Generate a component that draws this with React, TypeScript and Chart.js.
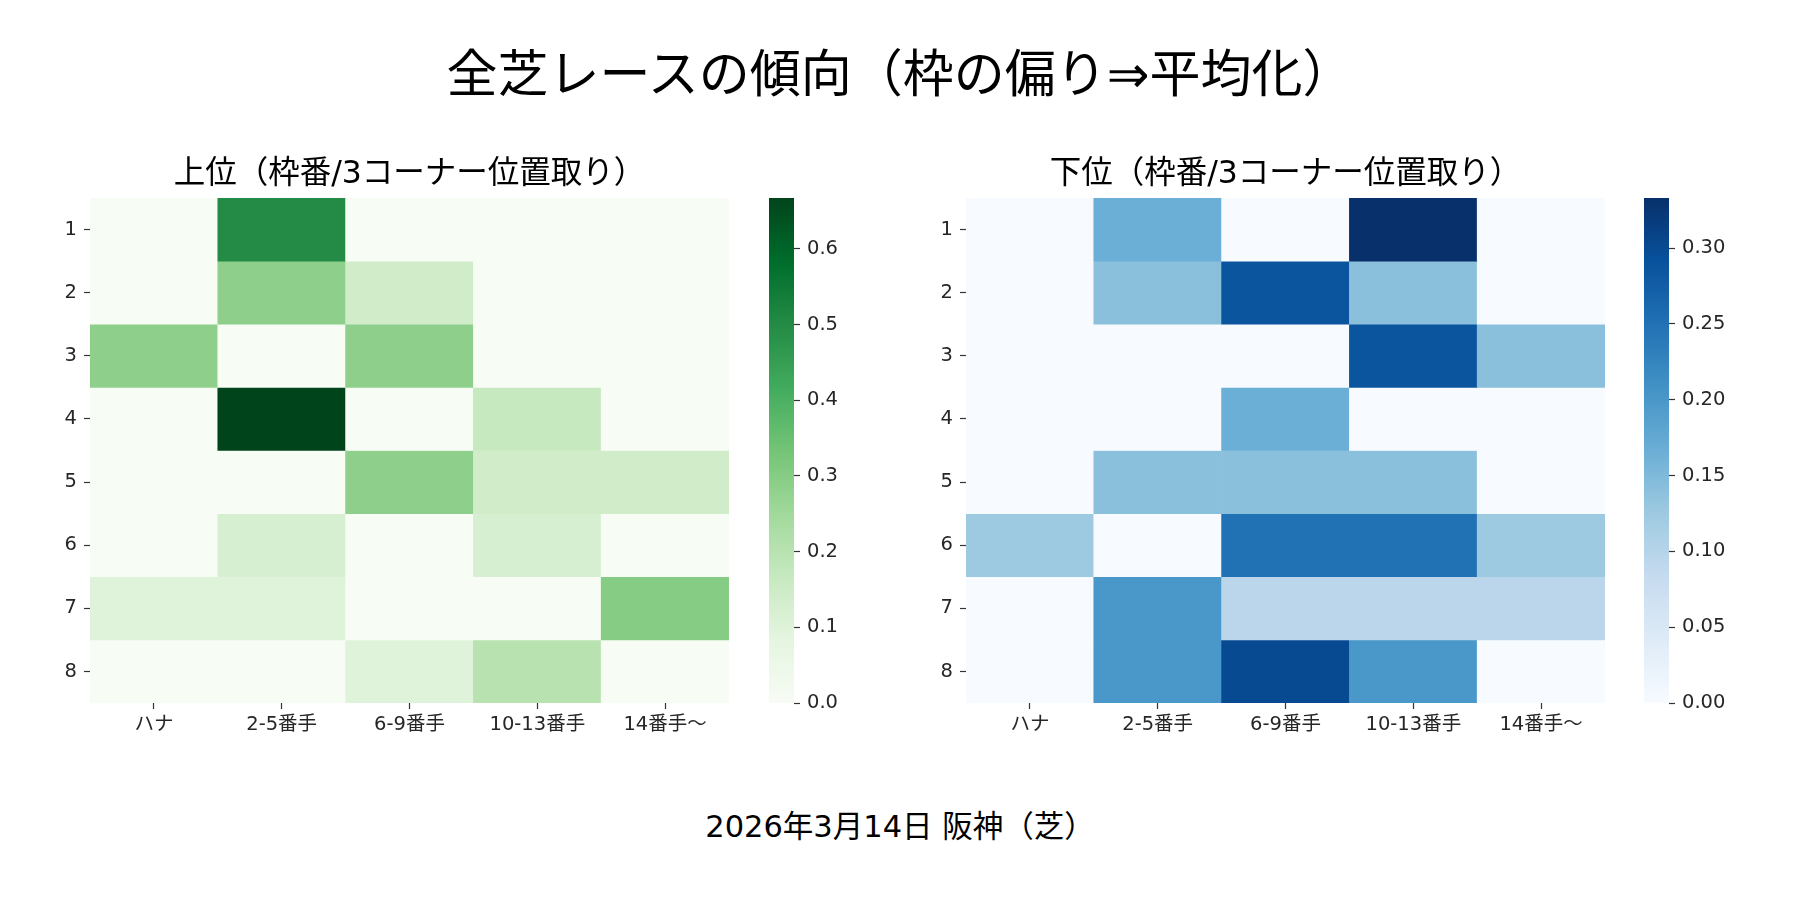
import { useEffect, useRef } from "react";
import { Chart, registerables } from "chart.js";

Chart.register(...registerables);

const FONT = '"DejaVu Sans", "Noto Sans CJK JP", sans-serif';

const COLUMNS = ["ハナ", "2-5番手", "6-9番手", "10-13番手", "14番手～"];
const ROWS = [1, 2, 3, 4, 5, 6, 7, 8];

// 上位: one row per 枠番, one value per 3コーナー位置
const TOP_VALUES = [
  [0, 0.5, 0, 0, 0],
  [0, 0.286, 0.143, 0, 0],
  [0.286, 0, 0.286, 0, 0],
  [0, 0.667, 0, 0.167, 0],
  [0, 0, 0.286, 0.143, 0.143],
  [0, 0.125, 0, 0.125, 0],
  [0.1, 0.1, 0, 0, 0.3],
  [0, 0, 0.1, 0.2, 0],
];

// 下位
const BOTTOM_VALUES = [
  [0, 0.167, 0, 0.333, 0],
  [0, 0.14, 0.286, 0.14, 0],
  [0, 0, 0, 0.286, 0.14],
  [0, 0, 0.167, 0, 0],
  [0, 0.14, 0.14, 0.14, 0],
  [0.125, 0, 0.25, 0.25, 0.125],
  [0, 0.2, 0.095, 0.095, 0.095],
  [0, 0.2, 0.3, 0.2, 0],
];

const TOP_MAX = 0.667;
const BOTTOM_MAX = 0.333;
const TOP_TICKS = [0, 0.1, 0.2, 0.3, 0.4, 0.5, 0.6];
const BOTTOM_TICKS = [0, 0.05, 0.1, 0.15, 0.2, 0.25, 0.3];

const GREENS = ["#f7fcf5", "#e5f5e0", "#c7e9c0", "#a1d99b", "#74c476", "#41ab5d", "#238b45", "#006d2c", "#00441b"];
const BLUES = ["#f7fbff", "#deebf7", "#c6dbef", "#9ecae1", "#6baed6", "#4292c6", "#2171b5", "#08519c", "#08306b"];

const TICK_COLOR = "#333333";
const LABEL_COLOR = "#262626";

function hexToRgb(h: string) {
  const n = parseInt(h.slice(1), 16);
  return [(n >> 16) & 255, (n >> 8) & 255, n & 255];
}

function cmap(stops: string[], t: number) {
  const c = Math.max(0, Math.min(1, t));
  const x = c * (stops.length - 1);
  const i = Math.min(Math.floor(x), stops.length - 2);
  const f = x - i;
  const a = hexToRgb(stops[i]);
  const b = hexToRgb(stops[i + 1]);
  const m = a.map((v, k) => Math.round(v + (b[k] - v) * f));
  return `rgb(${m[0]}, ${m[1]}, ${m[2]})`;
}

const tickFont = { family: FONT, size: 19.5 };

function Heatmap({ title, values, stops, vmax, left }: { title: string; values: number[][]; stops: string[]; vmax: number; left: number }) {
  const canvasRef = useRef<HTMLCanvasElement>(null);

  useEffect(() => {
    if (!canvasRef.current) return;
    const chart = new Chart(canvasRef.current, {
      type: "bar",
      data: {
        labels: COLUMNS,
        datasets: ROWS.map((row, r) => ({
          data: COLUMNS.map(() => [row - 0.5, row + 0.5]),
          backgroundColor: values[r].map((v) => cmap(stops, v / vmax)),
          grouped: false,
          categoryPercentage: 1,
          barPercentage: 1,
          borderWidth: 0,
        })),
      } as any,
      options: {
        animation: false,
        responsive: false,
        layout: { padding: { left: 0, right: 21, top: 0, bottom: 0 } },
        plugins: {
          legend: { display: false },
          tooltip: { enabled: false },
          title: {
            display: true,
            text: title,
            fullSize: false,
            color: "#000000",
            font: { family: FONT, size: 31.5, weight: "normal", lineHeight: 1.2 },
            padding: { top: 6, bottom: 4.2 },
          },
        },
        scales: {
          x: {
            type: "category",
            offset: true,
            grid: {
              display: true,
              drawOnChartArea: false,
              drawTicks: true,
              tickLength: 6,
              tickWidth: 1.2,
              tickColor: TICK_COLOR,
              offset: false,
            },
            border: { display: false },
            ticks: { color: LABEL_COLOR, font: tickFont, padding: 4, maxRotation: 0, autoSkip: false },
            afterFit: (s: any) => {
              s.height = 47;
            },
          },
          y: {
            type: "linear",
            min: 0.5,
            max: 8.5,
            reverse: true,
            afterBuildTicks: (s: any) => {
              s.ticks = ROWS.map((v) => ({ value: v }));
            },
            grid: {
              display: true,
              drawOnChartArea: false,
              drawTicks: true,
              tickLength: 6,
              tickWidth: 1.2,
              tickColor: TICK_COLOR,
            },
            border: { display: false },
            ticks: { color: LABEL_COLOR, font: tickFont, padding: 7 },
            afterFit: (s: any) => {
              s.width = 60;
            },
          },
        },
      } as any,
    });
    return () => chart.destroy();
  }, [title, values, stops, vmax]);

  return (
    <canvas
      ref={canvasRef}
      width={720}
      height={600}
      style={{ position: "absolute", left, top: 150, width: 720, height: 600 }}
    />
  );
}

function Colorbar({ stops, vmax, ticks, decimals, left }: { stops: string[]; vmax: number; ticks: number[]; decimals: number; left: number }) {
  const canvasRef = useRef<HTMLCanvasElement>(null);

  useEffect(() => {
    if (!canvasRef.current) return;
    const chart = new Chart(canvasRef.current, {
      type: "bar",
      data: {
        labels: [""],
        datasets: [
          {
            data: [[0, vmax]],
            backgroundColor: (ctx: any) => {
              const area = ctx.chart.chartArea;
              if (!area) return stops[4];
              const g = ctx.chart.ctx.createLinearGradient(0, area.bottom, 0, area.top);
              stops.forEach((c, i) => g.addColorStop(i / (stops.length - 1), c));
              return g;
            },
            categoryPercentage: 1,
            barPercentage: 1,
            borderWidth: 0,
          },
        ],
      } as any,
      options: {
        animation: false,
        responsive: false,
        layout: { padding: { left: 9, right: 0, top: 48, bottom: 47 } },
        plugins: { legend: { display: false }, tooltip: { enabled: false } },
        scales: {
          x: { display: false },
          y: {
            position: "right",
            min: 0,
            max: vmax,
            afterBuildTicks: (s: any) => {
              s.ticks = ticks.map((v) => ({ value: v }));
            },
            grid: {
              display: true,
              drawOnChartArea: false,
              drawTicks: true,
              tickLength: 6,
              tickWidth: 1.2,
              tickColor: TICK_COLOR,
            },
            border: { display: false },
            ticks: {
              color: LABEL_COLOR,
              font: tickFont,
              padding: 7,
              callback: (v: any) => Number(v).toFixed(decimals),
            },
            afterFit: (s: any) => {
              s.width = 110 - 9 - 25;
            },
          },
        },
      } as any,
    });
    return () => chart.destroy();
  }, [stops, vmax, ticks, decimals]);

  return (
    <canvas
      ref={canvasRef}
      width={110}
      height={600}
      style={{ position: "absolute", left, top: 150, width: 110, height: 600 }}
    />
  );
}

export default function App() {
  return (
    <div
      style={{
        position: "absolute",
        left: 0,
        top: 0,
        width: 1800,
        height: 900,
        background: "#ffffff",
        fontFamily: FONT,
        color: "#000000",
      }}
    >
      <div
        style={{
          position: "absolute",
          left: 0,
          top: 49,
          width: 1800,
          textAlign: "center",
          fontSize: 51,
          lineHeight: "51px",
        }}
      >
        全芝レースの傾向（枠の偏り⇒平均化）
      </div>

      <Heatmap title="上位（枠番/3コーナー位置取り）" values={TOP_VALUES} stops={GREENS} vmax={TOP_MAX} left={30} />
      <Colorbar stops={GREENS} vmax={TOP_MAX} ticks={TOP_TICKS} decimals={1} left={760} />

      <Heatmap title="下位（枠番/3コーナー位置取り）" values={BOTTOM_VALUES} stops={BLUES} vmax={BOTTOM_MAX} left={906} />
      <Colorbar stops={BLUES} vmax={BOTTOM_MAX} ticks={BOTTOM_TICKS} decimals={2} left={1635} />

      <div
        style={{
          position: "absolute",
          left: 0,
          top: 812,
          width: 1800,
          textAlign: "center",
          fontSize: 30.5,
          lineHeight: "30.5px",
        }}
      >
        2026年3月14日 阪神（芝）
      </div>
    </div>
  );
}
